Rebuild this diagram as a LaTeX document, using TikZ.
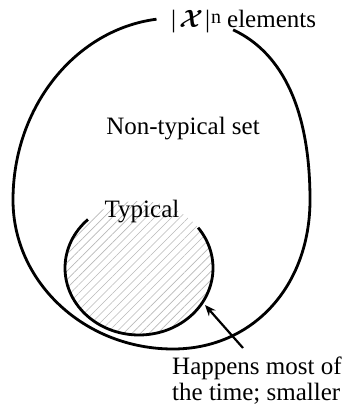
\documentclass[tikz,border=0pt]{standalone}
\usepackage{amsmath}
\usepackage{fontspec}
\setmainfont{Liberation Serif}
\usetikzlibrary{patterns.meta,arrows.meta}
\begin{document}
\begin{tikzpicture}[x=1pt,y=-1pt,
  lbl/.style={font=\fontsize{25}{26}\selectfont, inner sep=0pt},
  setline/.style={line width=2.8pt},
  pointer/.style={line width=2.2pt, -{Stealth[length=11pt,width=9pt]}}]
\useasboundingbox (0,0) rectangle (346,406);
% inner typical set, hatched
\path[pattern={Lines[angle=45,distance=6pt,line width=0.6pt]}, pattern color=black!28]
  (139,268) ellipse [x radius=74, y radius=67];
\draw[setline] (139,268) ++(226.4:74 and 67) arc[start angle=226.4, end angle=-37, x radius=74, y radius=67];
% outer set (open at the top, where the label sits)
\draw[setline] (233.1,29.8) .. controls (283.4,53.3) and (310,111.3) .. (310,200)
  .. controls (310,286.4) and (252.5,349) .. (173,349)
  .. controls (84.7,349) and (13,282.2) .. (13,200)
  .. controls (13,106.5) and (75.8,29.5) .. (156.5,19.2);
% labels
\node[lbl, anchor=base west] (all) at (171,28)
  {\textbar\hspace{3pt}$\boldsymbol{\mathcal{X}}$\hspace{2pt}\textbar\hspace{1pt}\raisebox{4pt}{\fontsize{20}{20}\selectfont n}\hspace{6pt}elements};
\node[lbl, anchor=base] (nontyp) at (183,135) {Non-typical set};
\node[lbl, anchor=base] (typ) at (142,217) {Typical};
\node[lbl, anchor=north west, align=left] (happ) at (172,357) {Happens most of\\the time; smaller};
\coordinate (tail) at (243,348);
\coordinate (tip) at (205,305);
\draw[pointer] (tail) -- (tip);
\end{tikzpicture}
\end{document}
